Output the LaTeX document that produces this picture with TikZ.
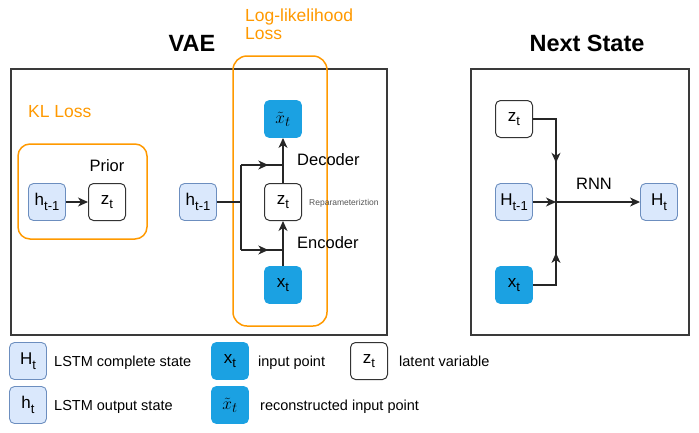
\documentclass[tikz,border=0pt]{standalone}
\usepackage{fontspec}
\setmainfont{Liberation Sans}
\usetikzlibrary{arrows.meta,decorations.markings}
\definecolor{lblue}{HTML}{DAE8FC}
\definecolor{lbluedraw}{HTML}{6C8EBF}
\definecolor{dblue}{HTML}{1BA1E2}
\definecolor{orng}{HTML}{FF9900}
\definecolor{framec}{HTML}{3A3A3A}
\definecolor{graytext}{HTML}{555555}
\newcommand{\fs}[1]{\fontsize{#1}{#1}\selectfont}
\newcommand{\sbs}[1]{\raisebox{-0.28em}{\fs{13}#1}}
\newcommand{\xrec}{{\fs{19}$\tilde{x}_t$}}
\begin{document}
\begin{tikzpicture}[x=1pt,y=-1pt,
  cell/.style={minimum width=37pt,minimum height=37pt,rounded corners=5pt,inner sep=0pt,font=\fs{17}},
  hbox/.style={cell,fill=lblue,draw=lbluedraw,line width=0.9pt},
  xbox/.style={cell,fill=dblue,draw=dblue,line width=0.9pt},
  zbox/.style={cell,fill=white,draw=black!80,line width=1pt},
  framebox/.style={draw=framec,line width=1.3pt},
  lossbox/.style={draw=orng,line width=1.5pt,rounded corners=14pt},
  losstext/.style={text=orng,font=\fs{17.5},anchor=west,inner sep=0pt},
  title/.style={font=\fs{23.5}\bfseries,inner sep=0pt},
  lbl/.style={font=\fs{16.5},inner sep=0pt},
  legtext/.style={font=\fs{14.5},anchor=base west,inner sep=0pt},
  conn/.style={line width=1.1pt,draw=black!85},
  arr/.style={conn,-{Stealth[length=10pt,width=9pt,inset=3pt]}},
  midarr/.style={conn,decoration={markings,mark=at position #1 with {\arrow{Stealth[length=10pt,width=9pt,inset=3pt]}}},postaction={decorate}}
]
\useasboundingbox (0,0) rectangle (699,432);

% titles
\node[title] (tvae) at (192,43) {VAE};
\node[title] (tns) at (587,43) {Next State};

% frames
\draw[framebox] (11,69) rectangle (387,335);
\draw[framebox] (471,69) rectangle (689,335);

% loss boxes
\draw[lossbox] (233,56) rectangle (327,326);
\draw[lossbox,rounded corners=12pt] (18,144) rectangle (147,239);
\node[losstext,align=left] (llt) at (245,24) {Log-likelihood\\[1pt]Loss};
\node[losstext] (klt) at (28,112) {KL Loss};

% KL part
\node[hbox] (h1) at (47,202) {h\sbs{t-1}};
\node[zbox] (z1) at (107,202) {z\sbs{t}};
\node[lbl] (prior) at (107,166) {Prior};
\draw[arr] (h1) -- (z1);

% VAE part
\node[hbox] (h2) at (198,202) {h\sbs{t-1}};
\node[zbox] (z2) at (283,202) {z\sbs{t}};
\node[xbox] (xt2) at (283,119) {\xrec};
\node[xbox] (x2) at (283,285) {x\sbs{t}};
\node[lbl,anchor=west] (dec) at (297,160) {Decoder};
\node[lbl,anchor=west] (enc) at (297,243) {Encoder};
\node[font=\fs{8.5},text=graytext,anchor=west,inner sep=0pt] (rep) at (309,203) {Reparameteriztion};
\coordinate (br) at (241,202);
\coordinate (brt) at (241,165);
\coordinate (brb) at (241,250);
\coordinate (jt) at (283,165);
\coordinate (jb) at (283,250);
\draw[conn] (h2.east) -- (br);
\draw[conn] (brt) -- (brb);
\draw[midarr=0.65] (brt) -- (jt);
\draw[midarr=0.65] (brb) -- (jb);
\draw[arr] (x2.north) -- (z2.south);
\draw[arr] (z2.north) -- (xt2.south);

% Next state
\node[zbox] (z3) at (514,119) {z\sbs{t}};
\node[hbox] (H1) at (514,202) {H\sbs{t-1}};
\node[xbox] (x3) at (514,285) {x\sbs{t}};
\node[hbox] (Ht) at (659,202) {H\sbs{t}};
\node[lbl] (rnn) at (594,184) {RNN};
\coordinate (nz) at (556,119);
\coordinate (nc) at (556,202);
\coordinate (nx) at (556,285);
\draw[midarr=0.63] (z3.east) -- (nz) -- (nc);
\draw[midarr=0.52] (x3.east) -- (nx) -- (nc);
\draw[arr] (H1.east) -- (nc);
\draw[arr] (nc) -- (Ht.west);

% legend
\node[hbox] (lH) at (28,361) {H\sbs{t}};
\node[legtext] (lHt) at (54,366.5) {LSTM complete state};
\node[hbox] (lh) at (28,405) {h\sbs{t}};
\node[legtext] (lht) at (54,410) {LSTM output state};
\node[xbox] (lx) at (230,361) {x\sbs{t}};
\node[legtext] (lxt) at (258,366.5) {input point};
\node[xbox] (lxr) at (230,405) {\xrec};
\node[legtext] (lxrt) at (260,410) {reconstructed input point};
\node[zbox] (lz) at (369,361) {z\sbs{t}};
\node[legtext] (lzt) at (399,366.5) {latent variable};
\end{tikzpicture}
\end{document}
